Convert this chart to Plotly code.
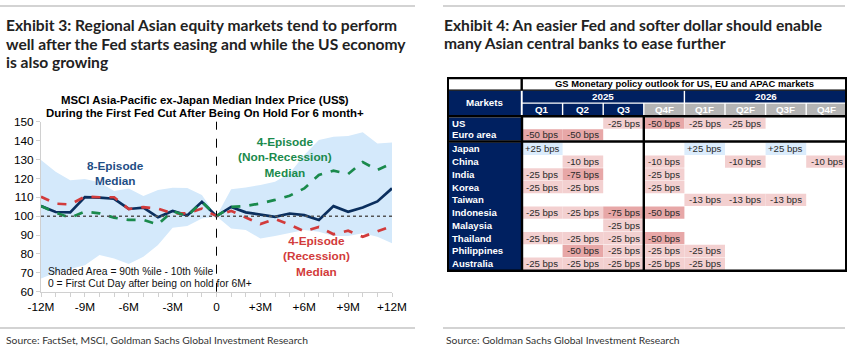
import plotly.graph_objects as go

W, H = 853, 353

# ---------------- data: Exhibit 3 ----------------
months = list(range(-12, 13))
med8 = [105.4, 102.2, 102.0, 110.1, 109.8, 109.2, 103.8, 104.5, 99.4, 102.7, 100.4, 107.6, 100.0,
        104.9, 102.0, 101.0, 99.6, 101.4, 100.5, 98.0, 105.3, 102.3, 104.6, 107.8, 114.7]
rec4 = [110.3, 106.6, 106.2, 110.3, 110.0, 110.0, 103.8, 104.8, 104.0, 101.5, 101.5, 104.0, 100.0,
        102.8, 99.3, 95.8, 98.5, 95.5, 91.9, 94.3, 90.4, 92.3, 89.1, 91.8, 94.8]
nonrec4 = [105.4, 101.8, 99.2, 102.4, 101.5, 99.2, 98.0, 98.0, 95.6, 102.7, 100.0, 107.6, 100.0,
           104.9, 105.4, 106.7, 108.6, 110.8, 114.7, 121.8, 124.1, 122.3, 128.6, 124.4, 128.0]
p90 = [129.7, 123.5, 119.0, 119.6, 118.0, 113.3, 114.7, 110.6, 113.8, 115.0, 114.9, 111.2, 100.0,
       114.2, 115.2, 116.5, 118.2, 122.6, 132.4, 140.3, 142.0, 142.4, 144.4, 138.5, 139.0]
p10 = [67.0, 70.0, 72.0, 74.0, 79.4, 77.6, 74.6, 78.5, 84.7, 93.9, 94.8, 98.8, 100.0,
       93.5, 92.6, 88.2, 89.5, 90.9, 92.6, 91.8, 89.5, 89.5, 90.9, 89.1, 85.6]
xtick_vals = [-12, -9, -6, -3, 0, 3, 6, 9, 12]
xtick_text = ["-12M", "-9M", "-6M", "-3M", "0", "+3M", "+6M", "+9M", "+12M"]
baseline = 100
first_cut = 0

# ---------------- data: Exhibit 4 ----------------
tbl_title = "GS Monetary policy outlook for US, EU and APAC markets"
tbl_years = ["2025", "2026"]
tbl_cols = ["Q1", "Q2", "Q3", "Q4F", "Q1F", "Q2F", "Q3F", "Q4F"]
tbl_group1 = ["US", "Euro area"]
tbl_group2 = ["Japan", "China", "India", "Korea", "Taiwan", "Indonesia", "Malaysia",
              "Thailand", "Philippines", "Australia"]
N = None
tbl_vals = [
    [N, N, -25, -50, -25, -25, N, N],      # US
    [-50, -50, N, N, N, N, N, N],          # Euro area
    [25, N, N, N, 25, N, 25, N],           # Japan
    [N, -10, N, -10, N, -10, N, -10],      # China
    [-25, -75, N, -25, N, N, N, N],        # India
    [-25, -25, N, -25, N, N, N, N],        # Korea
    [N, N, N, N, -13, -13, -13, N],        # Taiwan
    [-25, -25, -75, -50, N, N, N, N],      # Indonesia
    [N, N, -25, N, N, N, N, N],            # Malaysia
    [-25, -25, -25, -50, N, N, N, N],      # Thailand
    [N, -50, -25, -25, -25, N, N, N],      # Philippines
    [-25, -25, -25, -25, -25, N, N, N],    # Australia
]

# ---------------- styles ----------------
NAVY = "#0b2f5e"
GREEN = "#1a8a4c"
RED = "#d23b3b"
BAND = "#d4e9fb"
TNAVY = "#002060"
TGRAY = "#b4b4b4"
PINK_L = "#f3d0d0"
PINK_D = "#e7a7a7"
BLUE_L = "#dbecfc"
TITLE_FONT = dict(family="Lato", size=15.6, color="#222222")
ARIAL = "Liberation Sans, Arial"

fig = go.Figure()

# band
fig.add_trace(go.Scatter(x=months, y=p10, mode="lines", line=dict(width=0, color=BAND),
                         showlegend=False, hoverinfo="skip"))
fig.add_trace(go.Scatter(x=months, y=p90, mode="lines", line=dict(width=0, color=BAND),
                         fill="tonexty", fillcolor=BAND, showlegend=False, hoverinfo="skip"))
fig.add_trace(go.Scatter(x=months, y=med8, mode="lines", line=dict(color=NAVY, width=2.7),
                         showlegend=False))
fig.add_trace(go.Scatter(x=months, y=rec4, mode="lines", line=dict(color=RED, width=2.7, dash="dash"),
                         showlegend=False))
fig.add_trace(go.Scatter(x=months, y=nonrec4, mode="lines",
                         line=dict(color=GREEN, width=2.7, dash="dash"), showlegend=False))

# plot area geometry (px)
PX0, PX1, PY0, PY1 = 41, 392, 121.7, 291.7
fig.update_layout(
    width=W, height=H, margin=dict(l=0, r=0, t=0, b=0, pad=0, autoexpand=False),
    paper_bgcolor="white", plot_bgcolor="white", showlegend=False,
    xaxis=dict(domain=[PX0 / W, PX1 / W], range=[-12, 12], showgrid=False, zeroline=False,
               automargin=False,
               showline=True, linecolor="#d0d0d0", linewidth=1,
               tickmode="array", tickvals=xtick_vals, ticktext=xtick_text,
               ticks="outside", ticklen=4, tickcolor="#d0d0d0",
               minor=dict(tickmode="array", tickvals=months, ticks="outside", ticklen=4,
                          tickcolor="#d0d0d0"),
               tickfont=dict(family=ARIAL, size=11.8, color="#000")),
    yaxis=dict(domain=[1 - PY1 / H, 1 - PY0 / H], range=[60, 150], dtick=10, showgrid=False,
               automargin=False,
               zeroline=False, showline=True, linecolor="#d0d0d0", linewidth=1,
               ticks="outside", ticklen=4, tickcolor="#d0d0d0",
               tickfont=dict(family=ARIAL, size=11.8, color="#000")),
)

# reference lines
fig.add_shape(type="line", xref="x", yref="y domain", x0=first_cut, x1=first_cut, y0=0, y1=1,
              line=dict(color="#000", width=1, dash="dash"), layer="above")
fig.add_shape(type="line", xref="x domain", yref="y", x0=0, x1=1, y0=baseline, y1=baseline,
              line=dict(color="#555", width=1.5, dash="dot"), layer="above")

# series labels
lab_font = lambda c: dict(family=ARIAL, size=11.8, color=c)
fig.add_annotation(x=-6.93, y=122.6, xref="x", yref="y", text="<b>8-Episode<br>Median</b>",
                   showarrow=False, xanchor="center", font=lab_font("#1f4e85"))
fig.add_annotation(x=4.68, y=130.8, xref="x", yref="y",
                   text="<b>4-Episode<br>(Non-Recession)<br>Median</b>", showarrow=False,
                   xanchor="center", font=lab_font(GREEN))
fig.add_annotation(x=6.87, y=78.4, xref="x", yref="y",
                   text="<b>4-Episode<br>(Recession)<br>Median</b>", showarrow=False,
                   xanchor="center", font=lab_font(RED))
fig.add_annotation(x=-11.66, y=70.6, xref="x", yref="y", xanchor="left",
                   text="Shaded Area = 90th %ile - 10th %ile", showarrow=False,
                   font=dict(family=ARIAL, size=10.3, color="#111"))
fig.add_annotation(x=-11.66, y=64.4, xref="x", yref="y", xanchor="left",
                   text="0 = First Cut Day after being on hold for 6M+", showarrow=False,
                   font=dict(family=ARIAL, size=10.3, color="#111"))

# chart title
for t, yy in [("MSCI Asia-Pacific ex-Japan Median Index Price (US$)", 100),
              ("During the First Fed Cut After Being On Hold For 6 month+", 113)]:
    fig.add_annotation(xref="paper", yref="paper", x=205 / W, y=1 - yy / H, xanchor="center",
                       yanchor="middle", text="<b>" + t + "</b>", showarrow=False,
                       font=dict(family=ARIAL, size=11.4, color="#000"))

# exhibit titles
for t, yy in [("Exhibit 3: Regional Asian equity markets tend to perform", 25),
              ("well after the Fed starts easing and while the US economy", 44),
              ("is also growing", 62)]:
    fig.add_annotation(xref="paper", yref="paper", x=4 / W, y=1 - yy / H, xanchor="left",
                       yanchor="middle", text="<b>" + t + "</b>", showarrow=False, font=TITLE_FONT)
for t, yy in [("Exhibit 4: An easier Fed and softer dollar should enable", 25),
              ("many Asian central banks to ease further", 43)]:
    fig.add_annotation(xref="paper", yref="paper", x=442 / W, y=1 - yy / H, xanchor="left",
                       yanchor="middle", text="<b>" + t + "</b>", showarrow=False, font=TITLE_FONT)

# sources
for t, xx in [("Source: FactSet, MSCI, Goldman Sachs Global Investment Research", 4),
              ("Source: Goldman Sachs Global Investment Research", 444)]:
    fig.add_annotation(xref="paper", yref="paper", x=xx / W, y=1 - 340 / H, xanchor="left",
                       yanchor="middle", text=t, showarrow=False,
                       font=dict(family="Lato", size=10.3, color="#333"))

# separator rules
for x0, x1 in [(0, 415), (443, 845)]:
    for yy in (6, 328):
        fig.add_shape(type="line", xref="paper", yref="paper", x0=x0 / W, x1=x1 / W,
                      y0=1 - yy / H, y1=1 - yy / H, line=dict(color="#c4c4c4", width=1.5))

# ---------------- table on its own axes ----------------
TX0, TX1, TY0, TY1 = 447, 847, 77, 272
fig.update_layout(
    xaxis2=dict(domain=[TX0 / W, TX1 / W], range=[0, TX1 - TX0], visible=False, fixedrange=True,
                automargin=False),
    yaxis2=dict(domain=[1 - TY1 / H, 1 - TY0 / H], range=[TY1 - TY0, 0], visible=False,
                fixedrange=True, automargin=False),
)
fig.add_trace(go.Scatter(x=[0], y=[0], xaxis="x2", yaxis="y2", mode="markers",
                         marker=dict(opacity=0), showlegend=False, hoverinfo="skip"))

MK_W = 75.0
COL_W = 40.6
title_r = (1.0, 12.8)
year_r = (13.5, 25.5)
quar_r = (26.8, 38.3)
g1_top, g1_h = 40.5, 11.5
g2_top, g2_h = 65.5, 12.75


def rect(x0, x1, y0, y1, color):
    fig.add_shape(type="rect", xref="x2", yref="y2", x0=x0, x1=x1, y0=y0, y1=y1,
                  fillcolor=color, line=dict(width=0), layer="below")


def txt(x, y, s, size=9.6, color="#222", bold=False, xanchor="center"):
    fig.add_annotation(xref="x2", yref="y2", x=x, y=y, text=("<b>%s</b>" % s) if bold else s,
                       showarrow=False, xanchor=xanchor, yanchor="middle",
                       font=dict(family=ARIAL, size=size, color=color))


def col_left(i):
    return MK_W + i * COL_W


# title row
txt(MK_W + 4 * COL_W, (title_r[0] + title_r[1]) / 2, tbl_title, size=9.4, color="#000", bold=True)
# markets header
rect(0.5, MK_W - 1.2, year_r[0], quar_r[1], TNAVY)
txt(MK_W / 2, (year_r[0] + quar_r[1]) / 2, "Markets", size=9.8, color="white", bold=True)
# year row
for k, yr in enumerate(tbl_years):
    rect(col_left(4 * k) + 0.7, col_left(4 * k + 4) - 0.7, year_r[0], year_r[1], TNAVY)
    txt(col_left(4 * k) + 2 * COL_W, (year_r[0] + year_r[1]) / 2, yr, size=9.8, color="white",
        bold=True)
# quarter row
for i, q in enumerate(tbl_cols):
    c = TNAVY if i < 3 else TGRAY
    rect(col_left(i) + 0.7, col_left(i + 1) - 0.7, quar_r[0], quar_r[1], c)
    txt(col_left(i) + COL_W / 2, (quar_r[0] + quar_r[1]) / 2, q, size=9.8, color="white", bold=True)

# body rows
rows = [(m, g1_top + j * g1_h, g1_h) for j, m in enumerate(tbl_group1)] + \
       [(m, g2_top + j * g2_h, g2_h) for j, m in enumerate(tbl_group2)]
rect(0.5, MK_W, g1_top, g1_top + len(tbl_group1) * g1_h, TNAVY)
rect(0.5, MK_W, g2_top, g2_top + len(tbl_group2) * g2_h, TNAVY)
for (m, top, h), vals in zip(rows, tbl_vals):
    txt(3, top + h / 2, m, size=9.6, color="white", bold=True, xanchor="left")
    for i, v in enumerate(vals):
        if v is None:
            continue
        if v > 0:
            c = BLUE_L
        elif v <= -50:
            c = PINK_D
        else:
            c = PINK_L
        rect(col_left(i), col_left(i + 1), top + 0.3, top + h - 0.3, c)
        txt(col_left(i) + COL_W / 2, top + h / 2, "%+d bps" % v, size=9.6, color="#2a2a2a")


# black borders
def bl(x0, x1, y0, y1, w=2.4):
    fig.add_shape(type="line", xref="x2", yref="y2", x0=x0, x1=x1, y0=y0, y1=y1,
                  line=dict(color="#000", width=w), layer="above")


TW = TX1 - TX0
TH = TY1 - TY0
bl(0, TW, 1, 1)
bl(0.8, 0.8, 0, TH - 0.5)
bl(TW - 0.8, TW - 0.8, 0, TH - 0.5)
bl(0, TW, TH - 1.2, TH - 1.2)
bl(MK_W - 0.3, MK_W - 0.3, 0, title_r[1] + 0.4)
bl(0, TW, title_r[1] + 0.3, title_r[1] + 0.3, w=1.2)
bl(0, TW, quar_r[1] + 1.0, quar_r[1] + 1.0)
bl(0, TW, g2_top - 1.0, g2_top - 1.0)
bl(MK_W, MK_W, quar_r[1], TH - 0.5)
bl(col_left(3), col_left(3), quar_r[1], TH - 0.5)

fig.write_html("out.html")
